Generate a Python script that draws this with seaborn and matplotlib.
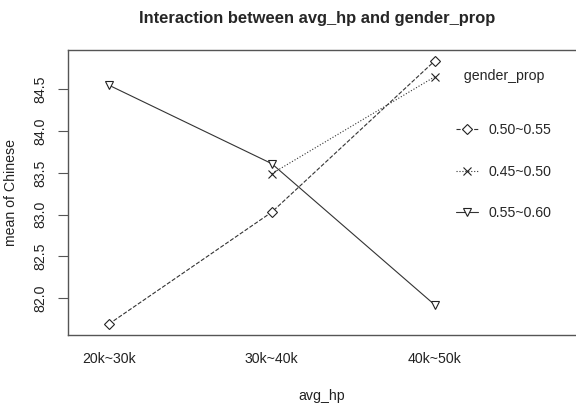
import matplotlib
matplotlib.use("Agg")
import matplotlib.pyplot as plt
import seaborn as sns
import pandas as pd

avg_hp = ["20k~30k", "30k~40k", "40k~50k"]
groups = ["0.50~0.55", "0.45~0.50", "0.55~0.60"]
vals_050_055 = [81.69, 83.03, 84.84]
vals_045_050 = [None, 83.49, 84.65]
vals_055_060 = [84.55, 83.61, 81.92]
yticks = [82.0, 82.5, 83.0, 83.5, 84.0, 84.5]

rows = []
for g, vals in zip(groups, [vals_050_055, vals_045_050, vals_055_060]):
    for a, v in zip(avg_hp, vals):
        if v is not None:
            rows.append({"avg_hp": a, "gender_prop": g, "Chinese": v})
df = pd.DataFrame(rows)

sns.set_theme(style="white")
plt.rcParams["font.family"] = ["Liberation Sans", "DejaVu Sans"]

FS = 10.2
fig = plt.figure(figsize=(5.76, 4.05), dpi=100)
ax = fig.add_axes([68 / 576, 1 - 335 / 405, 520 / 576, 285 / 405])

sns.pointplot(data=df, x="avg_hp", y="Chinese", hue="gender_prop",
              order=avg_hp, hue_order=groups,
              palette=["#333333", "#333333", "#333333"],
              markers=["D", "x", "v"], linestyles=["--", ":", "-"],
              errorbar=None, ax=ax, markersize=5.5, linewidth=0.8,
              markeredgewidth=0.8)

for line in ax.lines:
    line.set_markerfacecolor("white")
    line.set_markeredgecolor("#222222")

ax.set_xlim(-0.25, 2.94)
ax.set_ylim(81.56, 84.97)
ax.set_yticks(yticks)
ax.set_yticklabels([f"{t:.1f}" for t in yticks], rotation=90, va="center",
                   fontsize=FS, color="#222222")
ax.tick_params(axis="y", which="both", left=True, length=7, width=0.8,
               color="#555555", pad=8)
ax.tick_params(axis="x", bottom=False, labelsize=FS, pad=6, labelcolor="#222222")
for s in ax.spines.values():
    s.set_color("#555555")
    s.set_linewidth(1.0)

ax.set_xlabel("avg_hp", fontsize=FS, color="#222222")
ax.xaxis.set_label_coords((322 - 68) / 520, (335 - 389) / 285)
ax.set_ylabel("mean of Chinese", fontsize=FS, labelpad=11, color="#222222")
fig.text(317.5 / 576, 1 - 18 / 405,
         "Interaction between avg_hp and gender_prop",
         ha="center", va="center", fontsize=11.9, fontweight="bold")

leg = ax.legend(title="  gender_prop", loc="upper left",
                bbox_to_anchor=(375 / 520, 1 - 6 / 285), frameon=False,
                fontsize=FS, title_fontsize=FS, labelspacing=1.95,
                handlelength=1.6, handletextpad=0.7, markerscale=1.0)
leg._legend_box.align = "left"
leg._legend_box.sep = 29

fig.savefig("out.png", dpi=100)
